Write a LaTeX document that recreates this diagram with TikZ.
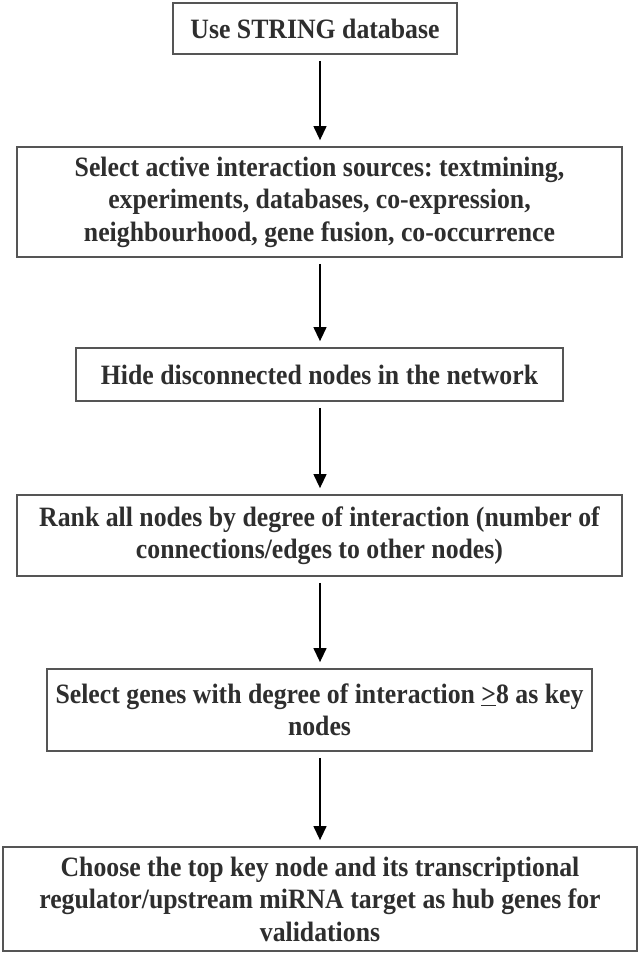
\documentclass[tikz,border=0pt]{standalone}
\usepackage{fontspec}
\setmainfont{Liberation Serif}[FakeStretch=0.92]
\usetikzlibrary{arrows.meta}
\definecolor{boxline}{HTML}{555555}
\definecolor{txt}{HTML}{2E2E2E}
\frenchspacing
\begin{document}
\begin{tikzpicture}[x=1pt,y=-1pt,
  box/.style={draw=boxline, line width=1.8pt, fill=white, inner sep=0pt,
    align=center, text=txt, font=\fontsize{28}{32.5}\selectfont\bfseries},
  arr/.style={draw=black, line width=1.3pt, -{Triangle[width=13pt,length=14pt]},
    shorten <=6pt, shorten >=6pt}]
\useasboundingbox (0,0) rectangle (640,957);
\fill[white] (0,0) rectangle (640,957);
\coordinate (col) at (320,0);
\node[box, minimum width=284pt, minimum height=51pt] (b1) at (315,28.5) {Use STRING database};
\node[box, minimum width=605pt, minimum height=110pt] (b2) at (319.5,202)
  {Select active interaction sources: textmining,\\ experiments, databases, co-expression,\\ neighbourhood, gene fusion, co-occurrence};
\node[box, minimum width=487pt, minimum height=53pt] (b3) at (319.5,374.5)
  {Hide disconnected nodes in the network};
\node[box, minimum width=605pt, minimum height=81pt] (b4) at (319.5,535.5)
  {Rank all nodes by degree of interaction (number of\\ connections/edges to other nodes)};
\node[box, minimum width=545pt, minimum height=82pt] (b5) at (319.5,710)
  {Select genes with degree of interaction \underline{>}8 as key\\ nodes};
\node[box, minimum width=634pt, minimum height=104pt] (b6) at (320,899)
  {Choose the top key node and its transcriptional\\ regulator/upstream miRNA target as hub genes for\\ validations};
\draw[arr] (b1.south -| col) -- (b2.north -| col);
\draw[arr] (b2.south -| col) -- (b3.north -| col);
\draw[arr] (b3.south -| col) -- (b4.north -| col);
\draw[arr] (b4.south -| col) -- (b5.north -| col);
\draw[arr] (b5.south -| col) -- (b6.north -| col);
\end{tikzpicture}
\end{document}
